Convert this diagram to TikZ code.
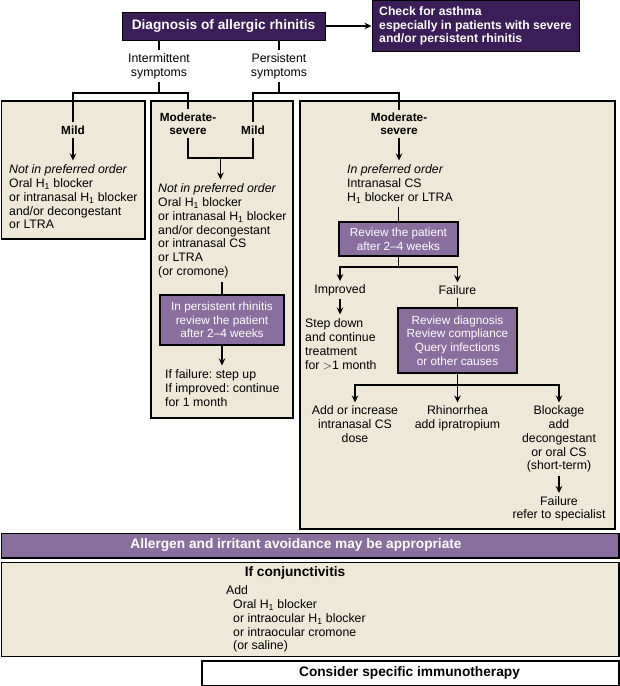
\documentclass[tikz,border=0pt]{standalone}
\usepackage{fontspec}
\setmainfont{Liberation Sans}
\usetikzlibrary{arrows.meta}
\frenchspacing
\definecolor{darkp}{HTML}{3B1D57}
\definecolor{medp}{HTML}{8A6E9E}
\definecolor{beigec}{HTML}{EDE8D8}
\newcommand{\Hone}{H\textsubscript{1}}
\newcommand{\fsN}{\fontsize{12.3}{13.8}\selectfont}
\newcommand{\fsB}{\bfseries\fontsize{13.7}{16}\selectfont}
\newcommand{\fsL}{\bfseries\fontsize{11.8}{13}\selectfont}
\newcommand{\fsR}{\fontsize{11.8}{13.6}\selectfont}
\tikzset{
  ln/.style={line width=1.4pt, black},
  arr/.style={ln, -{Stealth[length=7pt,width=6.5pt]}},
  beigebox/.style={draw=black, line width=1.5pt, fill=beigec, inner sep=0pt, anchor=north west},
  darkbox/.style={draw=black, line width=1pt, fill=darkp, text=white},
  revbox/.style={draw=black, line width=1.4pt, fill=medp, text=white, align=center, font=\fsR, inner sep=0pt},
  blk/.style={align=left, inner xsep=0pt, inner ysep=4pt, font=\fsN, anchor=north west},
  lbl/.style={align=center, inner sep=3pt, font=\fsN},
  blbl/.style={align=center, inner sep=3pt, font=\fsL},
}
\begin{document}
\begin{tikzpicture}[x=1pt,y=-1pt]
\useasboundingbox (0,0) rectangle (620,686);

% ---- boxes ----
\node[beigebox, minimum width=143.3pt, minimum height=138pt] (lbox) at (0.8,100) {};
\node[beigebox, minimum width=142pt, minimum height=317pt] (mbox) at (150,100) {};
\node[beigebox, minimum width=315pt, minimum height=428pt] (rbox) at (299,100) {};
\node[draw=black, line width=1.5pt, fill=medp, inner sep=0pt, anchor=north west, minimum width=617.3pt, minimum height=24.5pt] (avoid) at (0.8,532.5) {};
\node[beigebox, minimum width=617.3pt, minimum height=94pt] (conj) at (0.8,561.5) {};
\node[draw=black, line width=1.5pt, fill=white, inner sep=0pt, anchor=north west, minimum width=417pt, minimum height=25pt] (immuno) at (201,660) {};

% ---- top ----
\node[darkbox, font=\fsB, minimum width=203pt, minimum height=28pt, inner sep=0pt] (diag) at (223.5,26) {Diagnosis of allergic rhinitis};
\node[darkbox, align=left, font=\bfseries\fontsize{12.2}{13.3}\selectfont, minimum width=207pt, minimum height=51.5pt, inner sep=0pt] (asthma) at (475.5,26) {Check for asthma\\especially in patients with severe\\and/or persistent rhinitis};
\draw[arr] (diag) -- (asthma);

\node[lbl] (intermit) at (159,66) {Intermittent\\symptoms};
\node[lbl] (persist) at (279,66) {Persistent\\symptoms};
\draw[ln] (intermit.north |- diag.south) -- (intermit.north);
\draw[ln] (persist.north |- diag.south) -- (persist.north);
\coordinate (ib) at (159,93);
\coordinate (pb) at (279,93);
\draw[ln] (intermit.south) -- (ib);
\draw[ln] (persist.south) -- (pb);

% ---- left box ----
\node[blbl] (lmild) at (73,130) {Mild};
\node[blk] (ltext) at (9,160.5) {\itshape Not in preferred order\\Oral \Hone{} blocker\\or intranasal \Hone{} blocker\\and/or decongestant\\or LTRA};
\draw[arr] (lmild.south) -- (lmild.south |- ltext.north);

% ---- middle box ----
\node[blbl] (mmod) at (188,123.5) {Moderate-\\severe};
\node[blbl] (mmild) at (253,130) {Mild};
\draw[ln] (lmild.north) |- (ib) -| (mmod.north);
\draw[ln] (mmild.north) |- (pb);
\coordinate (mj) at (220.5,158);
\draw[ln] (mmod.south) |- (mj) -| (mmild.south);
\node[blk] (mtext) at (158,179.5) {\itshape Not in preferred order\\Oral \Hone{} blocker\\or intranasal \Hone{} blocker\\and/or decongestant\\or intranasal CS\\or LTRA\\(or cromone)};
\draw[arr] (mj) -- (mj |- mtext.north);
\node[revbox, minimum width=124pt, minimum height=50pt] (mrev) at (222,320) {In persistent rhinitis\\review the patient\\after 2–4 weeks};
\draw[ln] (mrev.north |- mtext.south) -- (mrev.north);
\node[blk] (mres) at (165,365.5) {If failure: step up\\If improved: continue\\for 1 month};
\draw[arr] (mrev.south) -- (mrev.south |- mres.north);

% ---- right box ----
\node[blbl] (rmod) at (399,124) {Moderate-\\severe};
\draw[ln] (pb) -| (rmod.north);
\node[blk] (rtext) at (347,160.5) {\itshape In preferred order\\Intranasal CS\\\Hone{} blocker or LTRA};
\draw[arr] (rmod.south) -- (rmod.south |- rtext.north);
\node[revbox, minimum width=119pt, minimum height=34pt] (rrev) at (398.5,239) {Review the patient\\after 2–4 weeks};
\draw[ln] (rrev.north |- rtext.south) -- (rrev.north);
\coordinate (rsplit) at (398.5,267);
\node[lbl] (rimp) at (340,290) {Improved};
\node[lbl] (rfail) at (457.5,290) {Failure};
\draw[ln] (rrev.south) -- (rsplit);
\draw[arr] (rsplit) -| (rimp.north);
\draw[arr] (rsplit) -| (rfail.north);
\node[blk] (rstep) at (305,314.5) {Step down\\and continue\\treatment\\for $>$1 month};
\draw[arr] (rimp.south) -- (rimp.south |- rstep.north);
\node[revbox, minimum width=119pt, minimum height=65pt] (rfrev) at (457.5,340.5) {Review diagnosis\\Review compliance\\Query infections\\or other causes};
\draw[ln] (rfail.south) -- (rfrev.north);
\coordinate (rsplit2) at (457.5,385);
\draw[ln] (rfrev.south) -- (rsplit2);
\node[lbl, anchor=north] (radd) at (355,402.5) {Add or increase\\intranasal CS\\dose};
\node[lbl, anchor=north] (rrhin) at (457.5,402.5) {Rhinorrhea\\add ipratropium};
\node[lbl, anchor=north] (rblock) at (559,402.5) {Blockage\\add\\decongestant\\or oral CS\\(short-term)};
\draw[arr] (rsplit2) -| (radd.north);
\draw[arr] (rsplit2) -- (rrhin.north);
\draw[arr] (rsplit2) -| (rblock.north);
\node[lbl, anchor=north] (rfail2) at (559,493) {Failure\\refer to specialist};
\draw[arr] (rblock.south) -- (rfail2.north);

% ---- bottom ----
\node[font=\fsB, text=white, inner sep=0pt] (avoidt) at (296,545) {Allergen and irritant avoidance may be appropriate};
\node[font=\fsB, inner sep=0pt] (conjh) at (295,573) {If conjunctivitis};
\node[blk] (conjt) at (226,581.5) {Add\\\hspace*{7pt}Oral \Hone{} blocker\\\hspace*{7pt}or intraocular \Hone{} blocker\\\hspace*{7pt}or intraocular cromone\\\hspace*{7pt}(or saline)};
\node[font=\fsB, inner sep=0pt] (immunot) at (409.5,672.5) {Consider specific immunotherapy};
\end{tikzpicture}
\end{document}
